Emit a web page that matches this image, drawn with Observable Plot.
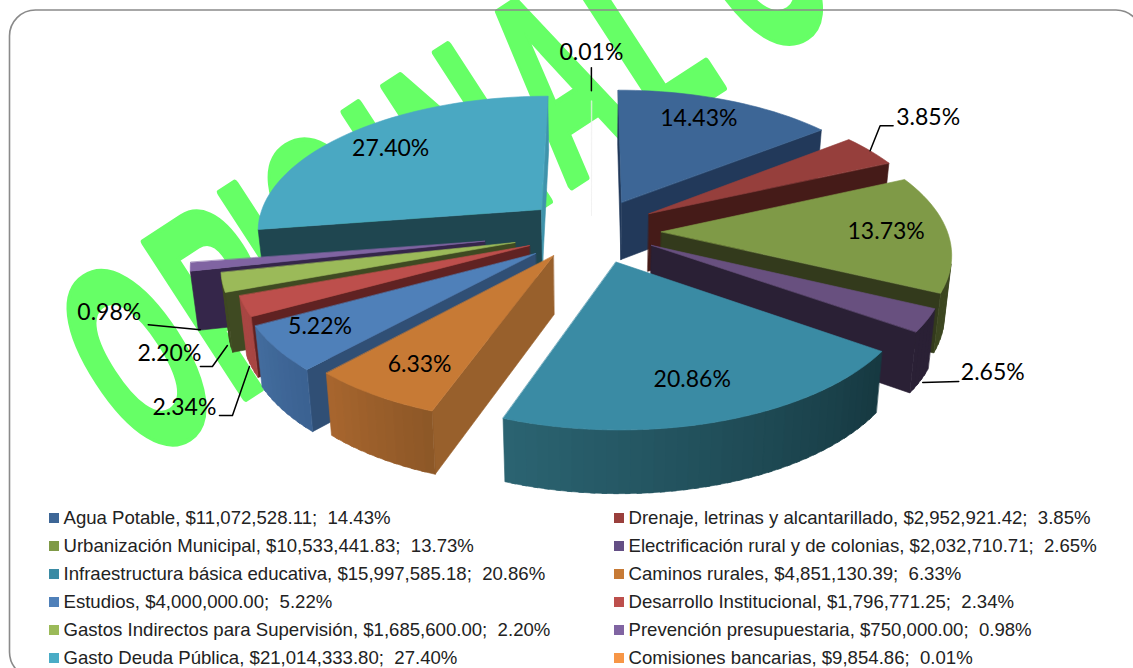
<!DOCTYPE html>
<html><head><meta charset="utf-8">
<style>html,body{margin:0;padding:0;background:#fff}svg{display:block}</style>
<script src="https://cdn.jsdelivr.net/npm/d3@7"></script>
<script src="https://cdn.jsdelivr.net/npm/@observablehq/plot@0.6"></script>
</head><body><div id="c"></div>
<script>
// ---- data
const categories = ["Agua Potable","Drenaje, letrinas y alcantarillado","Urbanización Municipal","Electrificación rural y de colonias","Infraestructura básica educativa","Caminos rurales","Estudios","Desarrollo Institucional","Gastos Indirectos para Supervisión","Prevención presupuestaria","Gasto Deuda Pública","Comisiones bancarias"];
const amounts = [11072528.11,2952921.42,10533441.83,2032710.71,15997585.18,4851130.39,4000000,1796771.25,1685600,750000,21014333.80,9854.86];
const percents = ["14.43%","3.85%","13.73%","2.65%","20.86%","6.33%","5.22%","2.34%","2.20%","0.98%","27.40%","0.01%"];
// ---- palette
const topColors = ["#3d6696","#963f3c","#7f9a47","#68507f","#3a8ba4","#c77a35","#4f80b9","#bd4f4c","#9bba59","#8064a2","#4aa8c2","#f0f0f0"];
const legendColors = ["#3d6696","#9a3f3c","#7f9a47","#644f85","#3a8ba4","#c77a35","#4f80b9","#bd4f4c","#9bba59","#8064a2","#4aacc6","#f79646"];
const sideColors = ["#22395a","#451b18","#333a1c","#2a2035","#1a424d","#98602c","#304f75","#602222","#3f4a22","#35264a","#1f4650","#f0f0f0"];
const endColors = ["#22395a","#451b18","#333a1c","#2a2035","#1a424d","#98602c","#304f75","#602222","#3f4a22","#35264a","#3f93ab","#f0f0f0"];
const outerNear = ["#22395a","#451b18","#3c4620","#2a2035","#163840","#8c5727","#3b6191","#a84643","#3f4a22","#35264a","#1f4650","#f0f0f0"];
const outerFar = ["#22395a","#451b18","#3c4620","#2a2035","#2b6472","#a8662e","#436d9e","#a84643","#3f4a22","#35264a","#1f4650","#f0f0f0"];
// ---- layout of the exploded perspective pie
const explode = [.23,.23,.23,.23,.23,.23,.26,.25,.29,.39,.255,.12];
const sliceShift = [[-2,-2],[-2,-2],[0,0],[-2,-2],[0,0],[-7,-3],[0,0],[0,0],[0,0],[0,0],[0,0],[-4,0]];
const pie = {cx:595, cy:231, a:286, b:135, p:.14, depth:58, converge:.98};
// label: radius fraction along the slice middle plus a pixel nudge
const labelR = [.75,1,.75,1,.75,.75,.75,1,1,1,.75,1];
const labelNudge = [[-4,-5],[58,-33],[10,-1],[66,52],[-1,3],[-4,8],[-26,3],[-60,101],[-53,71],[-81,46],[-5,-2],[0,-48]];
const leaderBends = {1:[[0,0],[10,-25],[23,-25]],3:[[-4,62],[32,61]],7:[[5,60],[-12,109],[-25,109]],8:[[5,63],[-10,84],[-22,84]],9:[[10,63],[-42,58]],11:[[0,-33],[0,-10]]};

const total = d3.sum(amounts);
const rad = d => d*Math.PI/180;
let cum = 0;
const slices = amounts.map((v,i)=>{const a0=cum/total*360; cum+=v; const a1=cum/total*360; return {i,a0,a1,mid:(a0+a1)/2,frac:v/total};});
function world(s,r,deg){return [explode[s.i]*Math.sin(rad(s.mid))+r*Math.sin(rad(deg)), explode[s.i]*Math.cos(rad(s.mid))+r*Math.cos(rad(deg))];}
function project(X,Y,bottom){const w=1+pie.p*Y; let sx=pie.a*X/w, sy=-pie.b*Y/w; if(bottom){sx*=pie.converge; sy+=pie.depth/Math.sqrt(w);} return [pie.cx+sx,pie.cy+sy];}
const pt=(s,r,deg,b)=>{const [X,Y]=world(s,r,deg); const [x,y]=project(X,Y,b); return [x+sliceShift[s.i][0],y+sliceShift[s.i][1]];};
const area=ps=>d3.sum(ps,(p,i)=>{const q=ps[(i+1)%ps.length];return p[0]*q[1]-q[0]*p[1];});

const faces=[]; let fid=0;
function addFace(pts,fill){const id=fid++; for(const p of pts) faces.push({id,x:p[0],y:p[1],fill});}
const order=[...slices].sort((a,b)=>Math.cos(rad(b.mid))-Math.cos(rad(a.mid)));
for(const s of order){
  const steps=Math.max(2,Math.ceil((s.a1-s.a0)/2));
  const angle=k=>s.a0+(s.a1-s.a0)*k/steps;
  if(s.frac>.001){
    const q0=[pt(s,0,s.a0),pt(s,1,s.a0),pt(s,1,s.a0,true),pt(s,0,s.a0,true)];
    const q1=[pt(s,0,s.a1),pt(s,1,s.a1),pt(s,1,s.a1,true),pt(s,0,s.a1,true)];
    if(area(q0)<0) addFace(q0,sideColors[s.i]);
    if(area(q1)>0) addFace(q1,endColors[s.i]);
    const mix=d3.interpolateRgb(outerNear[s.i],outerFar[s.i]);
    for(let k=0;k<steps;k++){const d0=angle(k),d1=angle(Math.min(steps,k+1.4));
      const q=[pt(s,1,d0),pt(s,1,d1),pt(s,1,d1,true),pt(s,1,d0,true)];
      if(area(q)<0) addFace(q,d3.color(mix((k+.5)/steps)).formatHex());}
  }
  const rim=d3.range(steps+1).map(k=>pt(s,1,angle(k)));
  addFace([pt(s,0,s.mid),...rim],topColors[s.i]);
}

const labels=slices.map(s=>{const [x,y]=pt(s,labelR[s.i],s.mid);return {x:x+labelNudge[s.i][0],y:y+labelNudge[s.i][1],text:percents[s.i]};});
const leaders=[];
for(const k of Object.keys(leaderBends)){const s=slices[+k];const [x,y]=pt(s,1,s.mid);
  leaderBends[k].forEach(([dx,dy])=>leaders.push({k:+k,x:x+dx,y:y+dy}));}

const fmt=d3.format("$,.2f");
const legendRows=categories.map((c,i)=>({i,text:`${c}, ${fmt(amounts[i])};  ${percents[i]}`,col:i%2,row:Math.floor(i/2)}));
const lx=d=>d.col?614:49, ly=d=>518+d.row*28;

const watermark=[{x:143,y:463,t:"ORIGINAL C"}];
const letterGaps="0 14 -12 2 10 20 24 24 10 0";
const green="#66ff66";
const chart=Plot.plot({
  width:1133,height:668,margin:0,
  x:{domain:[0,1133],range:[0,1133],axis:null},
  y:{domain:[0,668],range:[0,668],axis:null},
  color:{type:"identity"},
  marks:[
    Plot.text(watermark,{x:"x",y:"y",text:"t",rotate:-33,textAnchor:"start",lineAnchor:"bottom",fontFamily:"Liberation Sans",fontWeight:"bold",fontSize:268,fill:green,stroke:green,strokeWidth:9,className:"wm"}),
    Plot.rect([{}],{x1:()=>9.5,x2:()=>1142,y1:()=>10,y2:()=>678,rx:26,fill:"none",stroke:"#8a8a8a",strokeWidth:1.6}),
    Plot.line(faces,{x:"x",y:"y",z:"id",fill:"fill",stroke:"fill",strokeWidth:.6,curve:"linear-closed"}),
    Plot.line(leaders,{x:"x",y:"y",z:"k",stroke:"#000",strokeWidth:1.5}),
    Plot.text(labels,{x:"x",y:"y",text:"text",fontFamily:"Lato",fontSize:23,fill:"#000"}),
    Plot.rect(legendRows,{x1:d=>lx(d),x2:d=>lx(d)+10,y1:d=>ly(d)-5,y2:d=>ly(d)+5,fill:d=>legendColors[d.i]}),
    Plot.text(legendRows,{x:d=>lx(d)+14,y:d=>ly(d),text:"text",textAnchor:"start",fontFamily:"Liberation Sans",fontSize:18.6,fill:"#222",className:"lg"})
  ]
});
d3.select(chart).selectAll(".wm text").each(function(){const t=d3.select(this);t.attr("transform",t.attr("transform")+" scale(.5,1)").attr("dx",letterGaps);});
d3.select(chart).selectAll(".lg text").style("white-space","pre");
document.getElementById("c").append(chart);
</script></body></html>
